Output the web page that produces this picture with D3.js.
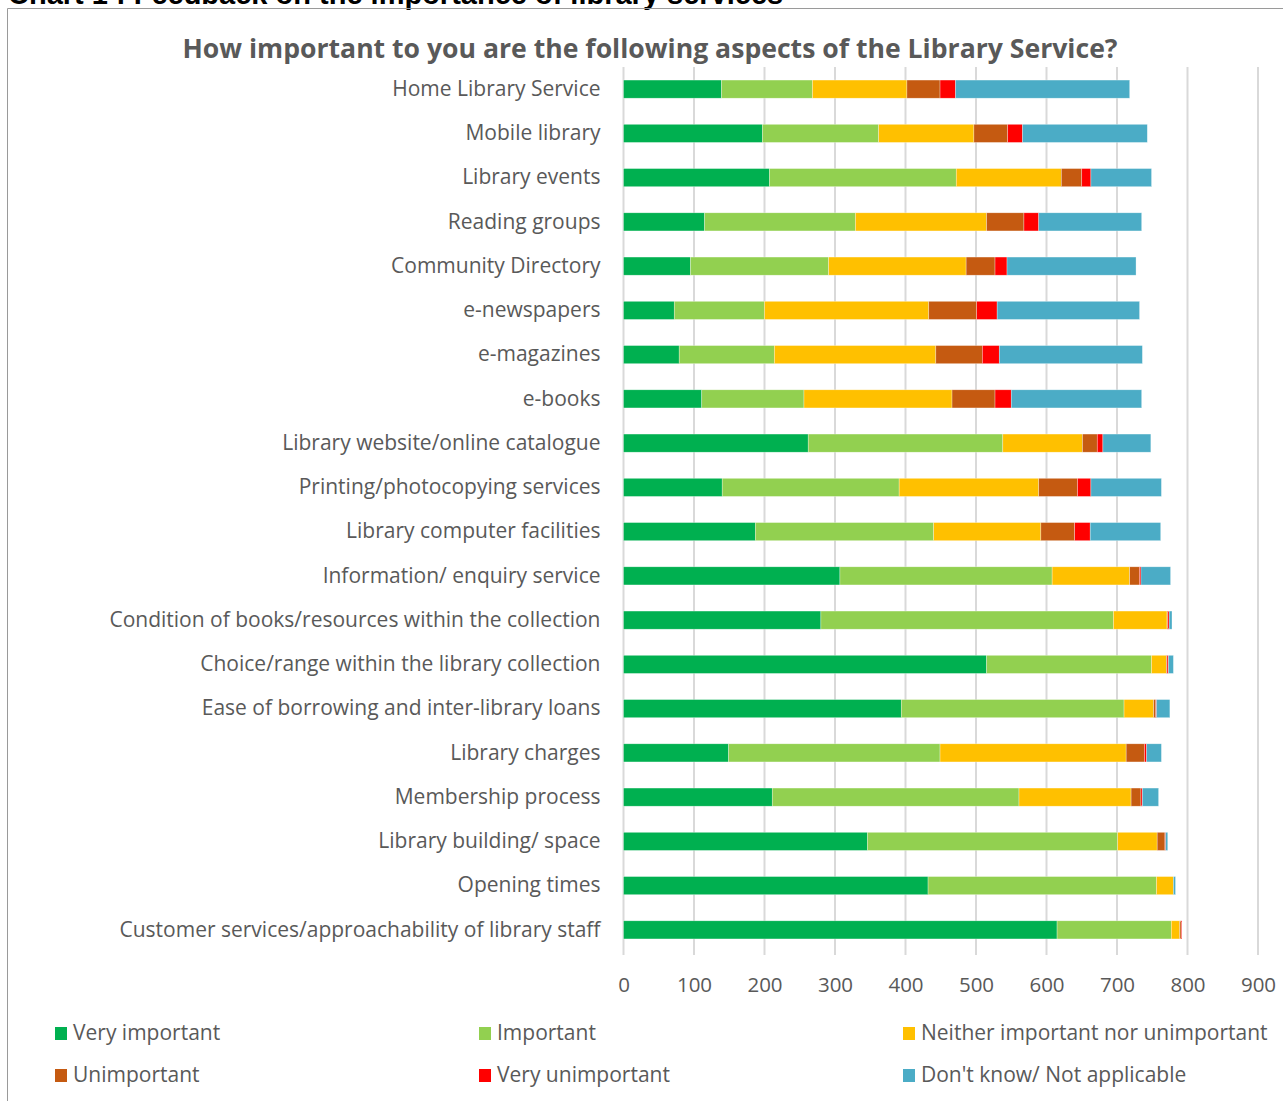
<!DOCTYPE html>
<html>
<head>
<meta charset="utf-8">
<script src="https://cdn.jsdelivr.net/npm/d3@7"></script>
<style>
  html, body { margin: 0; padding: 0; background: #fff; }
  svg { display: block; }
</style>
</head>
<body>
<svg id="chart" width="1283" height="1101"></svg>
<script>
// Survey responses: one value per aspect for each response level
const categories = [
  "Home Library Service",
  "Mobile library",
  "Library events",
  "Reading groups",
  "Community Directory",
  "e-newspapers",
  "e-magazines",
  "e-books",
  "Library website/online catalogue",
  "Printing/photocopying services",
  "Library computer facilities",
  "Information/ enquiry service",
  "Condition of books/resources within the collection",
  "Choice/range within the library collection",
  "Ease of borrowing and inter-library loans",
  "Library charges",
  "Membership process",
  "Library building/ space",
  "Opening times",
  "Customer services/approachability of library staff"
];

const seriesNames = [
  "Very important",
  "Important",
  "Neither important nor unimportant",
  "Unimportant",
  "Very unimportant",
  "Don't know/ Not applicable"
];

const veryImportant   = [139, 197, 207, 115,  95,  72,  79, 111, 262, 140, 187, 307, 280, 515, 394, 149, 211, 346, 432, 615];
const important       = [129, 165, 265, 214, 196, 128, 135, 145, 276, 251, 253, 301, 415, 234, 316, 300, 350, 355, 324, 162];
const neither         = [134, 135, 149, 186, 195, 233, 229, 210, 113, 198, 152, 110,  76,  21,  42, 264, 159,  56,  24,  12];
const unimportant     = [ 47,  48,  29,  53,  41,  68,  66,  61,  21,  55,  48,  14,   1,   1,   3,  26,  14,  11,   0,   2];
const veryUnimportant = [ 22,  21,  13,  21,  17,  29,  24,  23,   8,  19,  22,   2,   2,   2,   1,   3,   2,   1,   0,   1];
const dontKnow        = [247, 177,  86, 146, 183, 202, 203, 185,  68, 100, 100,  42,   4,   7,  19,  21,  23,   3,   3,   0];

const xTicks = [0, 100, 200, 300, 400, 500, 600, 700, 800, 900];

const colors = ["#00B050", "#92D050", "#FFC000", "#C55A11", "#FF0000", "#4BACC6"];

const seriesValues = [veryImportant, important, neither, unimportant, veryUnimportant, dontKnow];

// Table rows for d3.stack
const rows = categories.map((c, i) => {
  const r = { category: c };
  seriesNames.forEach((s, k) => { r[s] = seriesValues[k][i]; });
  return r;
});

const svg = d3.select("#chart");
const textColor = "#595959";
const font = "'Open Sans', sans-serif";

// Heading above the frame (runs off the top of the page)
svg.append("text")
  .attr("x", 8)
  .attr("y", 4)
  .attr("font-family", "'Liberation Sans', Arial, sans-serif")
  .attr("font-weight", "bold")
  .attr("font-size", 29)
  .attr("fill", "#000")
  .text("Chart 1 : Feedback on the importance of library services");

svg.append("path")
  .attr("d", "M7.5,1101 V8.5 H1283")
  .attr("fill", "none")
  .attr("stroke", "#9a9a9a")
  .attr("stroke-width", 1);

// Chart title
svg.append("text")
  .attr("x", 650)
  .attr("y", 58)
  .attr("text-anchor", "middle")
  .attr("font-family", font)
  .attr("font-weight", "bold")
  .attr("font-size", 26.6)
  .attr("fill", textColor)
  .text("How important to you are the following aspects of the Library Service?");

const margin = { left: 623.5, right: 1258, top: 67, bottom: 952 };

const x = d3.scaleLinear()
  .domain([0, 900])
  .range([margin.left, margin.right]);

const y = d3.scaleBand()
  .domain(categories)
  .range([margin.top, margin.bottom])
  .paddingInner(0.59)
  .paddingOuter(0.295);

// Vertical gridlines
svg.append("g")
  .selectAll("line")
  .data(xTicks)
  .join("line")
  .attr("x1", d => x(d))
  .attr("x2", d => x(d))
  .attr("y1", margin.top)
  .attr("y2", margin.bottom + 3)
  .attr("stroke", "#d9d9d9")
  .attr("stroke-width", 2);

// Stacked bars
const stack = d3.stack().keys(seriesNames);
const stacked = stack(rows);

svg.append("g")
  .selectAll("g")
  .data(stacked)
  .join("g")
  .attr("fill", (d, i) => colors[i])
  .selectAll("rect")
  .data(d => d)
  .join("rect")
  .attr("x", d => x(d[0]))
  .attr("y", d => y(d.data.category))
  .attr("width", d => Math.max(0, x(d[1]) - x(d[0])))
  .attr("height", y.bandwidth())
  .attr("stroke", "#ffffff")
  .attr("stroke-opacity", 0.5)
  .attr("stroke-width", 0.6);

// Category labels
const yAxis = d3.axisLeft(y).tickSize(0).tickPadding(23);
const gy = svg.append("g")
  .attr("transform", `translate(${margin.left},0)`)
  .call(yAxis);
gy.select(".domain").remove();
gy.selectAll("text")
  .attr("font-family", font)
  .attr("font-size", 21)
  .attr("fill", textColor);

// Value axis labels
const xAxis = d3.axisBottom(x).tickValues(xTicks).tickSize(0).tickPadding(25);
const gx = svg.append("g")
  .attr("transform", `translate(0,${margin.bottom})`)
  .call(xAxis);
gx.select(".domain").remove();
gx.selectAll("text")
  .attr("font-family", font)
  .attr("font-size", 20.5)
  .attr("fill", textColor);

// Legend, two rows of three
const legendCols = [55, 479, 903];
const legendRows = [1033, 1075];
const legend = svg.append("g")
  .selectAll("g")
  .data(seriesNames)
  .join("g")
  .attr("transform", (d, i) => `translate(${legendCols[i % 3]},${legendRows[Math.floor(i / 3)]})`);

legend.append("rect")
  .attr("x", 0)
  .attr("y", -6)
  .attr("width", 12)
  .attr("height", 13)
  .attr("fill", (d, i) => colors[i]);

legend.append("text")
  .attr("x", 18)
  .attr("y", 0)
  .attr("dy", "0.35em")
  .attr("font-family", font)
  .attr("font-size", 21)
  .attr("fill", textColor)
  .text(d => d);
</script>
</body>
</html>
